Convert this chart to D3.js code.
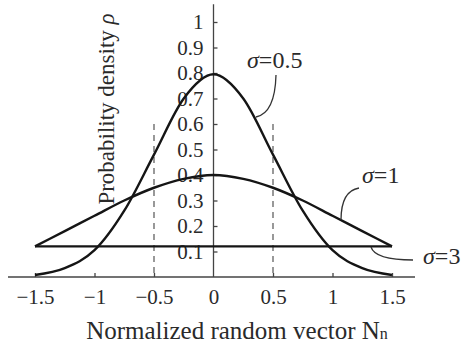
<!DOCTYPE html>
<html lang="en">
<head>
    <meta charset="UTF-8">
    <title>Probability density vs normalized random vector</title>
    <style>
        body {
            margin: 0;
            padding: 0;
            background-color: #fff;
        }
        svg text {
            font-family: 'Liberation Serif', 'Times New Roman', Times, Tinos, 'Nimbus Roman', 'DejaVu Serif', serif;
            fill: #2a2a2a;
        }
        .axis path, .axis line {
            stroke: #444;
            stroke-width: 1.3;
        }
        .curve {
            fill: none;
            stroke: #151515;
            stroke-width: 2.4;
        }
        .leader {
            fill: none;
            stroke: #333;
            stroke-width: 1.3;
        }
    </style>
</head>
<body>
    <div id="chart"></div>

    <script src="https://d3js.org/d3.v7.min.js"></script>
    <script>
        // sample positions along the normalized random vector
        const xs = [-1.5, -1.25, -1, -0.75, -0.5, -0.25, 0, 0.25, 0.5, 0.75, 1, 1.25, 1.5];
        const sigma05 = [0.008, 0.035, 0.105, 0.26, 0.48, 0.70, 0.795, 0.70, 0.48, 0.26, 0.105, 0.035, 0.008];
        const sigma1 = [0.12, 0.18, 0.24, 0.30, 0.35, 0.385, 0.40, 0.385, 0.35, 0.30, 0.24, 0.18, 0.12];
        const sigma3X = [-1.5, 1.5];
        const sigma3 = [0.12, 0.12];

        const xTicks = [-1.5, -1, -0.5, 0, 0.5, 1, 1.5];
        const yTicks = [0.1, 0.2, 0.3, 0.4, 0.5, 0.6, 0.7, 0.8, 0.9, 1];
        const dashX = [-0.5, 0.5];
        const dashTop = 0.6;

        const width = 467, height = 345;
        const serif = "'Liberation Serif', 'Times New Roman', Times, Tinos, 'Nimbus Roman', 'DejaVu Serif', serif";

        const svg = d3.select("#chart").append("svg")
            .attr("width", width)
            .attr("height", height);

        const x = d3.scaleLinear().domain([-1.5, 1.5]).range([35, 392]);
        const y = d3.scaleLinear().domain([0, 1]).range([277, 22]);

        // x axis line (longer than the data range)
        svg.append("line")
            .attr("x1", 8).attr("x2", 415)
            .attr("y1", y(0)).attr("y2", y(0))
            .attr("stroke", "#444").attr("stroke-width", 1.3);

        const xAxis = svg.append("g")
            .attr("class", "axis")
            .attr("transform", `translate(0,${y(0)})`)
            .call(d3.axisBottom(x)
                .tickValues(xTicks)
                .tickSizeInner(-4)
                .tickSizeOuter(0)
                .tickPadding(12)
                .tickFormat(d3.format("~g")));
        xAxis.attr("font-family", serif);
        xAxis.select(".domain").remove();
        xAxis.selectAll("text")
            .style("font-size", "21px")
            .style("font-family", serif)
            .attr("fill", "#2a2a2a");
        xAxis.selectAll(".tick").filter(d => d === 0).select("line").remove();

        // y axis line running above the top tick
        svg.append("line")
            .attr("x1", x(0)).attr("x2", x(0))
            .attr("y1", y(1.07)).attr("y2", y(0))
            .attr("stroke", "#444").attr("stroke-width", 1.3);

        const yAxis = svg.append("g")
            .attr("class", "axis")
            .attr("transform", `translate(${x(0)},0)`)
            .call(d3.axisLeft(y)
                .tickValues(yTicks)
                .tickSizeInner(-4)
                .tickSizeOuter(0)
                .tickPadding(10)
                .tickFormat(d3.format("~g")));
        yAxis.attr("font-family", serif);
        yAxis.select(".domain").remove();
        yAxis.selectAll("text")
            .style("font-size", "21px")
            .style("font-family", serif)
            .attr("fill", "#2a2a2a");

        // dashed guides at +-0.5
        svg.selectAll(".dash")
            .data(dashX)
            .enter().append("line")
            .attr("class", "dash")
            .attr("x1", d => x(d)).attr("x2", d => x(d))
            .attr("y1", y(dashTop)).attr("y2", y(0))
            .attr("stroke", "#555")
            .attr("stroke-width", 1.2)
            .attr("stroke-dasharray", "6,5");

        const line = d3.line()
            .x(d => x(d[0]))
            .y(d => y(d[1]))
            .curve(d3.curveMonotoneX);

        svg.append("path").attr("class", "curve")
            .attr("d", line(xs.map((v, i) => [v, sigma05[i]])));
        svg.append("path").attr("class", "curve")
            .attr("d", line(xs.map((v, i) => [v, sigma1[i]])));
        svg.append("path").attr("class", "curve")
            .attr("d", line(sigma3X.map((v, i) => [v, sigma3[i]])));

        // leader lines
        const leaders = [
            "M276,75 Q275,113 256,117",
            "M359,188 Q341,191 341,220",
            "M371,247 Q375,260 413,260"
        ];
        svg.selectAll(".leader")
            .data(leaders)
            .enter().append("path")
            .attr("class", "leader")
            .attr("d", d => d);

        // sigma labels
        const labels = [
            { t: "0.5", x: 247, y: 68 },
            { t: "1", x: 362, y: 183 },
            { t: "3", x: 423, y: 264 }
        ];
        labels.forEach(l => {
            const txt = svg.append("text")
                .attr("x", l.x)
                .attr("y", l.y)
                .style("font-family", serif)
                .style("font-size", "24px");
            txt.append("tspan").style("font-style", "italic").text("σ");
            txt.append("tspan").text("=" + l.t);
        });

        // axis titles
        const xt = svg.append("text")
            .attr("x", 237)
            .attr("y", 339)
            .attr("text-anchor", "middle")
            .style("font-family", serif)
            .style("font-size", "25px");
        xt.append("tspan").text("Normalized random vector N");
        xt.append("tspan").style("font-size", "16px").text("n");

        const yt = svg.append("text")
            .attr("transform", "translate(114,109) rotate(-90)")
            .attr("text-anchor", "middle")
            .style("font-family", serif)
            .style("font-size", "23px");
        yt.append("tspan").text("Probability density ");
        yt.append("tspan").style("font-style", "italic").text("ρ");
    </script>
</body>
</html>
